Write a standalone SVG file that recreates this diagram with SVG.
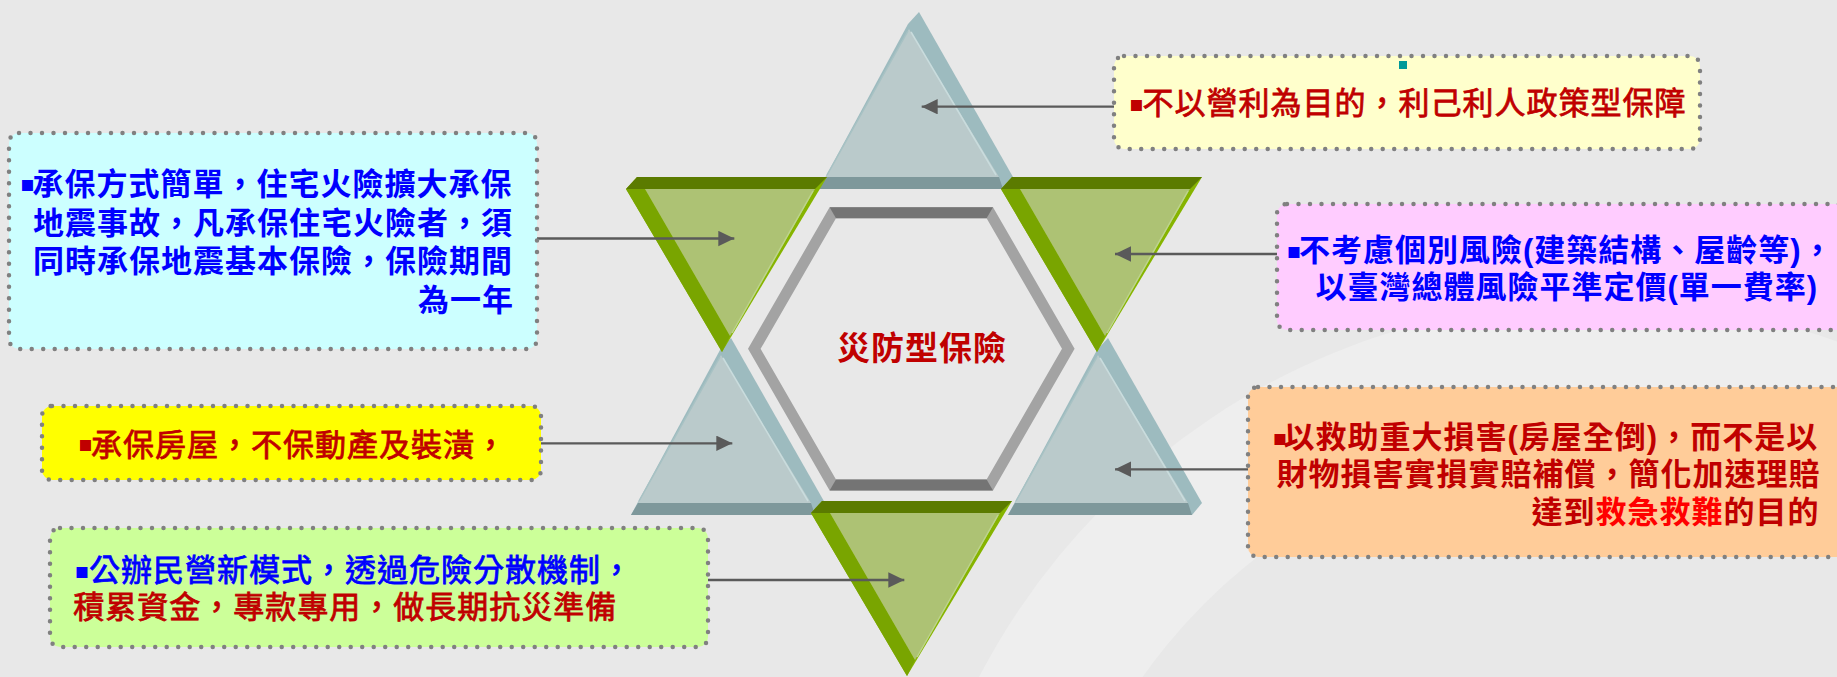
<svg xmlns="http://www.w3.org/2000/svg" xmlns:xlink="http://www.w3.org/1999/xlink" width="1837" height="677" viewBox="0 0 1837 677" xml:lang="zh-Hant-TW" lang="zh-Hant-TW">
<style>
.box{stroke:#808080;stroke-width:4.5;stroke-dasharray:0 11.5;stroke-linecap:round}
.t{font-family:"Liberation Sans","Noto Sans CJK TC",sans-serif;font-size:31px;font-weight:700;letter-spacing:1px}
.m{font-weight:400;stroke-width:0.8px}
.bl{font-family:"DejaVu Sans",sans-serif;font-size:22px;letter-spacing:0}
.blue{fill:#0000ff}
.red{fill:#c00000}
.m.blue{stroke:#0000ff}
.m.red{stroke:#c00000}
.bright{fill:#ff0000}
.conn{stroke:#5a5a5a;stroke-width:2.3;fill:none;marker-end:url(#arr)}
</style>
<defs>
<marker id="arr" markerUnits="userSpaceOnUse" markerWidth="17" markerHeight="16" refX="16" refY="7.7" orient="auto">
<path d="M0,0 L16,7.7 L0,15.4 Z" fill="#5a5a5a"/>
</marker>
<g id="upTri">
<polygon points="-1,-5 10,-17 104,148 94,160 -90,160" fill="#9dbbbf"/>
<polygon points="-90,160 -83,148 90,148 94,160" fill="#7e989b"/>
<polygon points="0,0 -83,148 90,148" fill="#bacacb"/>
<line x1="2" y1="3" x2="87" y2="146" stroke="#c9dcdd" stroke-width="1.5"/>
<line x1="-1" y1="2" x2="-82" y2="146" stroke="#a8c2c4" stroke-width="1.5"/>
</g>
<g id="downTri">
<polygon points="-19,0 -8,-12 182,-12 77,163" fill="#86b400"/>
<polygon points="-19,0 -8,-12 182,-12 170,0" fill="#5b7b00"/>
<polygon points="-19,0 0,0 85,147 77,163" fill="#79a500"/>
<polygon points="0,0 170,0 85,147" fill="#adc274"/>
<line x1="168" y1="2" x2="87" y2="144" stroke="#bdd48c" stroke-width="1.5"/>
</g>
</defs>
<rect x="0" y="0" width="1837" height="677" fill="#e8e8e8"/>
<g id="background-ring">
<path d="M900,1000 A700,700 0 0 1 2300,1000 L2160,1000 A560,560 0 0 0 1040,1000 Z" fill="#eeeeee"/>
</g>
<g id="star">
<use xlink:href="#upTri" x="909" y="29"/>
<use xlink:href="#upTri" x="721" y="355"/>
<use xlink:href="#upTri" x="1098" y="355"/>
<use xlink:href="#downTri" x="645" y="189"/>
<use xlink:href="#downTri" x="1020" y="189"/>
<use xlink:href="#downTri" x="830" y="513"/>
</g>
<g id="hexagon">
<path d="M748,348.8 L829.6,207.2 L993,207.2 L1074.6,348.8 L993,490.4 L829.6,490.4 Z M760.6,348.8 L836,218.3 L986.6,218.3 L1062,348.8 L986.6,479.4 L836,479.4 Z" fill="#a3a3a3" fill-rule="evenodd"/>
<polygon points="829.6,207.2 993,207.2 986.6,218.3 836,218.3" fill="#747474"/>
<polygon points="829.6,490.4 993,490.4 986.6,479.4 836,479.4" fill="#747474"/>
<text x="922" y="360" text-anchor="middle" font-family="'Liberation Sans','Noto Sans CJK TC',sans-serif" font-size="33" font-weight="700" letter-spacing="1" fill="#c00000">災防型保險</text>
</g>
<g id="connectors">
<line class="conn" x1="1114" y1="106.7" x2="921.7" y2="106.7"/>
<line class="conn" x1="537" y1="238.5" x2="734.3" y2="238.5"/>
<line class="conn" x1="1277" y1="254" x2="1115" y2="254"/>
<line class="conn" x1="541" y1="443.3" x2="732.3" y2="443.3"/>
<line class="conn" x1="1248" y1="469.3" x2="1115" y2="469.3"/>
<line class="conn" x1="708" y1="580" x2="904.3" y2="580"/>
</g>
<g id="box-cyan">
<rect class="box" x="9" y="133" width="528" height="216" rx="10" fill="#ccffff"/>
<text class="t blue"><tspan class="bl" x="20" y="191">▪</tspan><tspan x="32.5" y="195.3">承保方式簡單，住宅火險擴大承保</tspan></text>
<text class="t blue" x="33" y="233.8">地震事故，凡承保住宅火險者，須</text>
<text class="t blue" x="33" y="272.3">同時承保地震基本保險，保險期間</text>
<text class="t blue" x="418" y="310.8">為一年</text>
</g>
<g id="box-yellow-top">
<rect class="box" x="1114" y="56" width="586" height="93" rx="10" fill="#ffffcc"/>
<rect x="1399" y="61" width="8" height="8" fill="#009999"/>
<text class="t m red"><tspan class="bl" x="1129" y="111" stroke="none">▪</tspan><tspan x="1142.5" y="114">不以營利為目的，利己利人政策型保障</tspan></text>
</g>
<g id="box-pink">
<rect class="box" x="1277" y="204" width="620" height="126" rx="10" fill="#ffccff"/>
<text class="t blue"><tspan class="bl" x="1286.5" y="258">▪</tspan><tspan x="1299" y="260.5">不考慮個別風險(建築結構、屋齡等)，</tspan></text>
<text class="t blue" x="1315.5" y="298">以臺灣總體風險平準定價(單一費率)</text>
</g>
<g id="box-orange">
<rect class="box" x="1248" y="387" width="640" height="170" rx="10" fill="#ffcc99"/>
<text class="t red"><tspan class="bl" x="1272.5" y="445">▪</tspan><tspan x="1283.5" y="447.5">以救助重大損害(房屋全倒)，而不是以</tspan></text>
<text class="t red" x="1276.5" y="485">財物損害實損實賠補償，簡化加速理賠</text>
<text class="t red" x="1531.5" y="522.5">達到<tspan class="bright">救急救難</tspan>的目的</text>
</g>
<g id="box-yellow">
<rect class="box" x="42" y="406" width="499" height="74" rx="10" fill="#ffff00"/>
<text class="t m red"><tspan class="bl" x="78" y="451" stroke="none">▪</tspan><tspan x="91" y="456">承保房屋，不保動產及裝潢，</tspan></text>
</g>
<g id="box-green">
<rect class="box" x="50" y="528" width="658" height="119" rx="10" fill="#ccff99"/>
<text class="t m blue"><tspan class="bl" x="74.5" y="578" stroke="none">▪</tspan><tspan x="89" y="581.3">公辦民營新模式，透過危險分散機制，</tspan></text>
<text class="t m red" x="73.3" y="618">積累資金，專款專用，做長期抗災準備</text>
</g>
</svg>
